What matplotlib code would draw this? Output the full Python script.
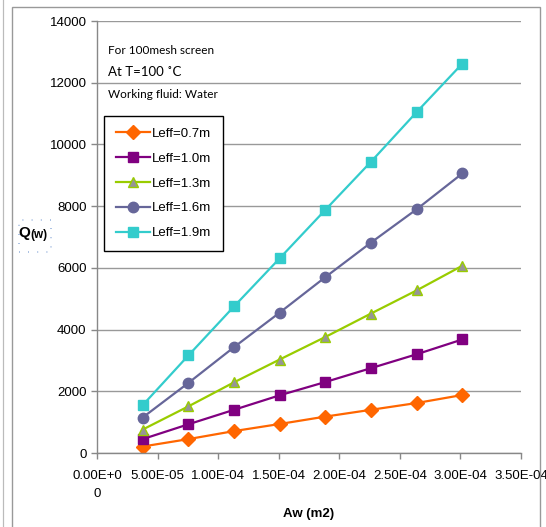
import matplotlib.pyplot as plt
from matplotlib.patches import Rectangle

plt.rcParams['font.family'] = ['Liberation Sans', 'DejaVu Sans']

# Wick area (m2) and heat transport (W) for each effective length
aw = [3.77e-5, 7.54e-5, 1.131e-4, 1.508e-4, 1.885e-4, 2.262e-4, 2.639e-4, 3.016e-4]
q_07 = [210, 450, 710, 940, 1180, 1400, 1620, 1880]
q_10 = [450, 930, 1400, 1870, 2300, 2750, 3200, 3680]
q_13 = [760, 1510, 2290, 3030, 3760, 4520, 5270, 6070]
q_16 = [1150, 2270, 3430, 4550, 5700, 6820, 7900, 9060]
q_19 = [1550, 3160, 4750, 6310, 7880, 9440, 11050, 12620]
labels = ['Leff=0.7m', 'Leff=1.0m', 'Leff=1.3m', 'Leff=1.6m', 'Leff=1.9m']

xticks = [0, 5e-5, 1e-4, 1.5e-4, 2e-4, 2.5e-4, 3e-4, 3.5e-4]
xticklabels = ['0.00E+0\n0', '5.00E-05', '1.00E-04', '1.50E-04', '2.00E-04',
               '2.50E-04', '3.00E-04', '3.50E-04']
yticks = [0, 2000, 4000, 6000, 8000, 10000, 12000, 14000]

fig = plt.figure(figsize=(5.46, 5.27), dpi=100)

# outer chart frame
fig.patches.append(Rectangle((12 / 546, -0.01), 528 / 546, 1 - 7 / 527 + 0.01,
                             transform=fig.transFigure, fill=False,
                             edgecolor='#999999', linewidth=1))
fig.patches.append(Rectangle((3 / 546, -0.01), 0, 1.02, transform=fig.transFigure,
                             fill=False, edgecolor='#bbbbbb', linewidth=0.8))

ax = fig.add_axes([97 / 546, 1 - 453 / 527, 424 / 546, 432 / 527])

ax.plot(aw, q_07, color='#FF6600', lw=1.6, marker='D', ms=7, label=labels[0])
ax.plot(aw, q_10, color='#800080', lw=1.6, marker='s', ms=6.5, label=labels[1])
ax.plot(aw, q_13, color='#99CC00', lw=1.6, marker='^', ms=7.5,
        markerfacecolor='#969696', markeredgecolor='#99CC00', label=labels[2])
ax.plot(aw, q_16, color='#666699', lw=1.6, marker='o', ms=7.5, label=labels[3])
ax.plot(aw, q_19, color='#33CCCC', lw=1.6, marker='s', ms=7, label=labels[4])

ax.set_xlim(0, 3.5e-4)
ax.set_ylim(0, 14000)
ax.set_xticks(xticks)
ax.set_xticklabels(xticklabels, fontsize=9.5, multialignment='center',
                   linespacing=1.7)
ax.set_yticks(yticks)
ax.set_yticklabels([str(v) for v in yticks], fontsize=9.5)
ax.tick_params(axis='both', direction='out', length=4, color='#888888', width=1)
ax.tick_params(axis='x', pad=8)

ax.grid(axis='y', color='#999999', linewidth=1)
ax.set_axisbelow(True)
for side in ['top', 'right']:
    ax.spines[side].set_visible(False)
for side in ['left', 'bottom']:
    ax.spines[side].set_color('#888888')
    ax.spines[side].set_linewidth(1)

ax.set_xlabel('Aw (m2)', fontsize=9.5, fontweight='bold', labelpad=6)

# y axis title drawn as text with a larger Q
fig.text(18 / 546, 1 - 233 / 527, 'Q', fontsize=11, fontweight='bold',
         va='center', ha='left')
fig.text(30 / 546, 1 - 235 / 527, '(w)', fontsize=8.5, fontweight='bold',
         va='center', ha='left')
fig.patches.append(Rectangle((19 / 546, 1 - 252 / 527), 32 / 546, 32 / 527,
                             transform=fig.transFigure, fill=False,
                             edgecolor='#88a8d8', linewidth=1.2,
                             linestyle=(0, (0.5, 5))))

fig.text(108 / 546, 1 - 50 / 527, 'For 100mesh screen', fontsize=8.5,
         family=['Lato', 'DejaVu Sans'], va='center')
fig.text(108 / 546, 1 - 72 / 527, 'At T=100 \u02daC', fontsize=9.5,
         family=['Lato', 'DejaVu Sans'], va='center')
fig.text(108 / 546, 1 - 95 / 527, 'Working fluid: Water', fontsize=8.5,
         family=['Lato', 'DejaVu Sans'], va='center')

leg = ax.legend(loc='upper left', bbox_to_anchor=(7 / 424, 1 - 95 / 432),
                fontsize=9.5, frameon=True, fancybox=False, edgecolor='black',
                framealpha=1, handlelength=2.6, handletextpad=0.15,
                labelspacing=0.95, borderpad=0.9, borderaxespad=0)
leg.get_frame().set_linewidth(1)

fig.savefig('out.png', dpi=100)
